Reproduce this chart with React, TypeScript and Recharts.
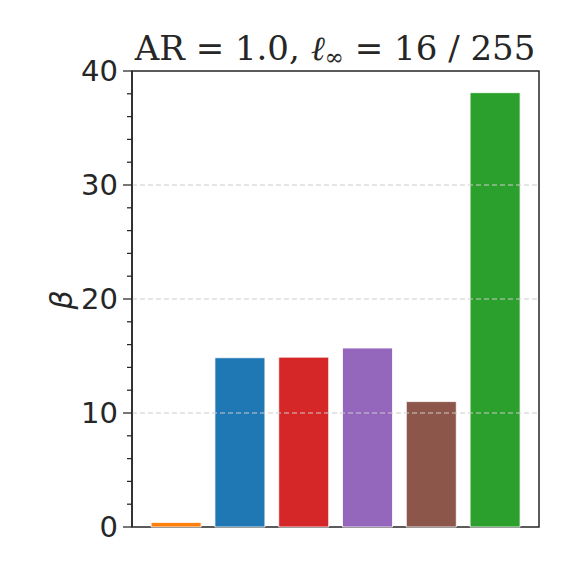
import React from 'react';
import { BarChart, Bar, XAxis, YAxis, ReferenceLine, ReferenceArea, Cell } from 'recharts';

const categories = ['m1', 'm2', 'm3', 'm4', 'm5', 'm6'];
const betaValues = [0.4, 14.85, 14.9, 15.7, 11.0, 38.1];
const barColors = ['#ff7f0e', '#1f77b4', '#d62728', '#9467bd', '#8c564b', '#2ca02c'];
const yTicks = [0, 2, 4, 6, 8, 10, 12, 14, 16, 18, 20, 22, 24, 26, 28, 30, 32, 34, 36, 38, 40];
const gridLevels = [10, 20, 30];

// bar slots 0..5, with matplotlib-style 5% margins around the 0.8-wide bars
const data = categories.map((name, i) => ({ name, pos: i, beta: betaValues[i] }));

const INK = '#262626';

const YTick = (props: any) => {
  const { x, y, payload } = props;
  const major = payload.value % 10 === 0;
  const len = major ? 9 : 5;
  return (
    <g>
      <line x1={x - len} x2={x} y1={y} y2={y} stroke={INK} strokeWidth={1.25} />
      {major && (
        <text
          x={x - len - 5}
          y={y}
          dy="0.36em"
          textAnchor="end"
          fill={INK}
          fontSize={29}
          fontFamily="DejaVu Sans"
        >
          {payload.value}
        </text>
      )}
    </g>
  );
};

const App = () => {
  return (
    <div style={{ position: 'absolute', left: 0, top: 0, width: 576, height: 582, background: '#fff' }}>
      <svg width={576} height={582} style={{ position: 'absolute', left: 0, top: 0 }}>
        <text x={335} y={60} textAnchor="middle" fontFamily="DejaVu Serif" fontSize={34} fill={INK}>
          AR = 1.0, <tspan fontStyle="italic">ℓ</tspan>
          <tspan fontSize={23} dy={5}>∞</tspan>
          <tspan dy={-5}> = 16 / 255</tspan>
        </text>
        <text
          x={0}
          y={0}
          transform="translate(72,300) rotate(-90)"
          textAnchor="middle"
          fontFamily="DejaVu Sans"
          fontStyle="italic"
          fontSize={30}
          fill={INK}
        >
          β
        </text>
      </svg>
      <div style={{ position: 'absolute', left: 0, top: 0 }}>
        <BarChart width={576} height={582} data={data} margin={{ top: 71, right: 37, bottom: 55, left: 0 }} barSize={50}>
          {gridLevels.map((v) => (
            <ReferenceLine key={v} y={v} stroke="#cccccc" strokeDasharray="5 3" strokeWidth={1} />
          ))}
          <XAxis
            dataKey="pos"
            type="number"
            domain={[-0.69, 5.69]}
            allowDataOverflow
            ticks={[]}
            tick={false}
            tickLine={false}
            height={0}
            axisLine={{ stroke: INK, strokeWidth: 1.5 }}
          />
          <YAxis
            domain={[0, 40]}
            ticks={yTicks}
            interval={0}
            width={132}
            tickSize={0}
            tickMargin={0}
            tickLine={false}
            tick={<YTick />}
            axisLine={{ stroke: INK, strokeWidth: 1.5 }}
          />
          <Bar dataKey="beta" isAnimationActive={false} stroke="#ffffff" strokeWidth={0.8}>
            {data.map((d, i) => (
              <Cell key={d.name} fill={barColors[i]} />
            ))}
          </Bar>
          <ReferenceArea y1={0} y2={40} fill="none" fillOpacity={0} stroke={INK} strokeWidth={1.5} />
        </BarChart>
      </div>
    </div>
  );
};

export default App;
